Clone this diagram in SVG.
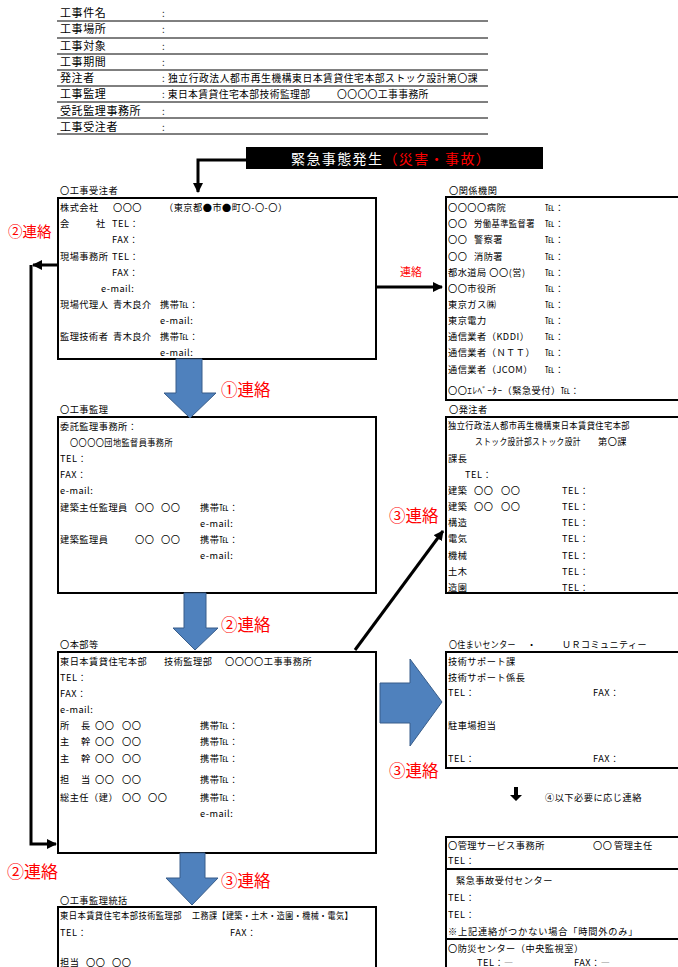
<svg xmlns="http://www.w3.org/2000/svg" width="678" height="967" viewBox="0 0 678 967">
<style>
text{font-family:"Noto Sans CJK JP","Noto Sans",sans-serif;fill:#000}
.h{font-size:11px;letter-spacing:0.6px}
.v{font-size:9.8px;letter-spacing:0.4px}
.t{font-size:9.2px;letter-spacing:0.5px}
.red{fill:#ff0000}
.box{fill:#fff;stroke:#000;stroke-width:2}
.hl{stroke:#000;stroke-width:1}
.con{fill:none;stroke:#000;stroke-width:3}
.blue{fill:#4f81bd;stroke:#385d8a;stroke-width:1}
</style>
<defs>
<marker id="ah" viewBox="0 0 10 10" refX="9" refY="5" markerWidth="10" markerHeight="10" markerUnits="userSpaceOnUse" orient="auto"><path d="M0,0 L10,5 L0,10 z" fill="#000"/></marker>
</defs>
<rect width="678" height="967" fill="#fff"/>

<g id="header">
<g class="hl">
<line x1="57" y1="21" x2="488" y2="21"/><line x1="57" y1="38" x2="488" y2="38"/><line x1="57" y1="54" x2="488" y2="54"/><line x1="57" y1="70" x2="488" y2="70"/><line x1="57" y1="86" x2="488" y2="86"/><line x1="57" y1="102" x2="488" y2="102"/><line x1="57" y1="118" x2="488" y2="118"/><line x1="57" y1="134" x2="488" y2="134"/>
</g>
<text class="h" x="60" y="17">工事件名</text>
<text class="h" x="60" y="33">工事場所</text>
<text class="h" x="60" y="50">工事対象</text>
<text class="h" x="60" y="66">工事期間</text>
<text class="h" x="60" y="82">発注者</text>
<text class="h" x="60" y="98">工事監理</text>
<text class="h" x="60" y="115">受託監理事務所</text>
<text class="h" x="60" y="131">工事受注者</text>
<text class="v" x="162" y="17">:</text>
<text class="v" x="162" y="33">:</text>
<text class="v" x="162" y="50">:</text>
<text class="v" x="162" y="66">:</text>
<text class="v" x="162" y="82" textLength="316" lengthAdjust="spacing">: 独立行政法人都市再生機構東日本賃貸住宅本部ストック設計第〇課</text>
<text class="v" x="162" y="98">: 東日本賃貸住宅本部技術監理部</text>
<text class="v" x="337" y="98">〇〇〇〇工事事務所</text>
<text class="v" x="162" y="115">:</text>
<text class="v" x="162" y="131">:</text>
</g>

<g id="banner">
<rect x="246" y="147" width="297" height="22" fill="#000"/>
<text x="291" y="163.5" style="font-size:14px;letter-spacing:1.4px"><tspan fill="#fff">緊急事態発生</tspan><tspan fill="#ff0000">（災害・事故）</tspan></text>
</g>

<g id="contractor">
<text class="t" x="60" y="194">〇工事受注者</text>
<rect class="box" x="58" y="198" width="318" height="161"/>
<text class="t" x="60" y="210.5">株式会社</text><text class="t" x="113" y="210.5">〇〇〇</text><text class="t" x="164" y="210.5">（東京都●市●町〇-〇-〇）</text>
<text class="t" x="60" y="226.5">会</text><text class="t" x="96" y="226.5">社</text><text class="t" x="112" y="226.5">TEL：</text>
<text class="t" x="112" y="242.5">FAX：</text>
<text class="t" x="60" y="259.5">現場事務所</text><text class="t" x="112" y="259.5">TEL：</text>
<text class="t" x="112" y="275.5">FAX：</text>
<text class="t" x="101" y="291.5">e-mail:</text>
<text class="t" x="60" y="307.5">現場代理人</text><text class="t" x="113" y="307.5">青木良介</text><text class="t" x="160" y="307.5">携帯℡：</text>
<text class="t" x="160" y="323.5">e-mail:</text>
<text class="t" x="60" y="339.5">監理技術者</text><text class="t" x="113" y="339.5">青木良介</text><text class="t" x="160" y="339.5">携帯℡：</text>
<text class="t" x="160" y="355.5">e-mail:</text>
</g>

<g id="agencies">
<text class="t" x="449" y="194">〇関係機関</text>
<rect class="box" x="446" y="197" width="250" height="203"/>
<text class="t" x="448" y="210.5">〇〇〇〇病院</text>
<text class="t" x="448" y="226.5">〇〇</text><text class="t" x="474" y="226.5" textLength="61" lengthAdjust="spacingAndGlyphs">労働基準監督署</text>
<text class="t" x="448" y="242.5">〇〇</text><text class="t" x="474" y="242.5">警察署</text>
<text class="t" x="448" y="259.5">〇〇</text><text class="t" x="474" y="259.5">消防署</text>
<text class="t" x="448" y="275.5">都水道局 〇〇(営)</text>
<text class="t" x="448" y="291.5">〇〇市役所</text>
<text class="t" x="448" y="307.5">東京ガス㈱</text>
<text class="t" x="448" y="323.5">東京電力</text>
<text class="t" x="448" y="339.5">通信業者（KDDI）</text>
<text class="t" x="448" y="355.5">通信業者（ＮＴＴ）</text>
<text class="t" x="448" y="372.5">通信業者（JCOM）</text>
<text class="t" x="448" y="393.5">〇〇ｴﾚﾍﾞｰﾀｰ（緊急受付）℡：</text>
<text class="t" x="545" y="210.5">℡：</text>
<text class="t" x="545" y="226.5">℡：</text>
<text class="t" x="545" y="242.5">℡：</text>
<text class="t" x="545" y="259.5">℡：</text>
<text class="t" x="545" y="275.5">℡：</text>
<text class="t" x="545" y="291.5">℡：</text>
<text class="t" x="545" y="307.5">℡：</text>
<text class="t" x="545" y="323.5">℡：</text>
<text class="t" x="545" y="339.5">℡：</text>
<text class="t" x="545" y="355.5">℡：</text>
<text class="t" x="545" y="372.5">℡：</text>
</g>

<g id="supervision">
<text class="t" x="60" y="413">〇工事監理</text>
<rect class="box" x="58" y="417" width="318" height="176"/>
<text class="t" x="60" y="429.5">委託監理事務所：</text>
<text class="t" x="70" y="445.5" textLength="103" lengthAdjust="spacingAndGlyphs">〇〇〇〇団地監督員事務所</text>
<text class="t" x="60" y="461.5">TEL：</text>
<text class="t" x="60" y="477.5">FAX：</text>
<text class="t" x="60" y="493.5">e-mail:</text>
<text class="t" x="60" y="510.5">建築主任監理員</text><text class="t" x="135" y="510.5">〇〇</text><text class="t" x="161" y="510.5">〇〇</text><text class="t" x="200" y="510.5">携帯℡：</text>
<text class="t" x="200" y="526.5">e-mail:</text>
<text class="t" x="60" y="542.5">建築監理員</text><text class="t" x="135" y="542.5">〇〇</text><text class="t" x="161" y="542.5">〇〇</text><text class="t" x="200" y="542.5">携帯℡：</text>
<text class="t" x="200" y="558.5">e-mail:</text>
</g>

<g id="orderer">
<text class="t" x="449" y="413">〇発注者</text>
<rect class="box" x="446" y="417" width="250" height="176"/>
<text class="t" x="448" y="428.5" textLength="182" lengthAdjust="spacingAndGlyphs">独立行政法人都市再生機構東日本賃貸住宅本部</text>
<text class="t" x="475" y="444.5" textLength="106" lengthAdjust="spacingAndGlyphs">ストック設計部ストック設計</text><text class="t" x="598" y="444.5">第〇課</text>
<text class="t" x="448" y="461.5">課長</text>
<text class="t" x="465" y="477.5">TEL：</text>
<text class="t" x="448" y="493.5">建築</text><text class="t" x="474" y="493.5">〇〇</text><text class="t" x="501" y="493.5">〇〇</text><text class="t" x="562" y="493.5">TEL：</text>
<text class="t" x="448" y="509.5">建築</text><text class="t" x="474" y="509.5">〇〇</text><text class="t" x="501" y="509.5">〇〇</text><text class="t" x="562" y="509.5">TEL：</text>
<text class="t" x="448" y="525.5">構造</text><text class="t" x="562" y="525.5">TEL：</text>
<text class="t" x="448" y="541.5">電気</text><text class="t" x="562" y="541.5">TEL：</text>
<text class="t" x="448" y="558.5">機械</text><text class="t" x="562" y="558.5">TEL：</text>
<text class="t" x="448" y="574.5">土木</text><text class="t" x="562" y="574.5">TEL：</text>
<text class="t" x="448" y="590.5">造園</text><text class="t" x="562" y="590.5">TEL：</text>
</g>

<g id="headquarters">
<text class="t" x="60" y="648">〇本部等</text>
<rect class="box" x="58" y="652" width="318" height="201"/>
<text class="t" x="60" y="664.5">東日本賃貸住宅本部</text><text class="t" x="164" y="664.5">技術監理部</text><text class="t" x="225" y="664.5">〇〇〇〇工事事務所</text>
<text class="t" x="60" y="680.5">TEL：</text>
<text class="t" x="60" y="696.5">FAX：</text>
<text class="t" x="60" y="712.5">e-mail:</text>
<text class="t" x="60" y="728.5">所</text><text class="t" x="81" y="728.5">長</text><text class="t" x="95" y="728.5">〇〇</text><text class="t" x="122" y="728.5">〇〇</text><text class="t" x="200" y="728.5">携帯℡：</text>
<text class="t" x="60" y="744.5">主</text><text class="t" x="81" y="744.5">幹</text><text class="t" x="95" y="744.5">〇〇</text><text class="t" x="122" y="744.5">〇〇</text><text class="t" x="200" y="744.5">携帯℡：</text>
<text class="t" x="60" y="761.5">主</text><text class="t" x="81" y="761.5">幹</text><text class="t" x="95" y="761.5">〇〇</text><text class="t" x="122" y="761.5">〇〇</text><text class="t" x="200" y="761.5">携帯℡：</text>
<text class="t" x="60" y="782.5">担</text><text class="t" x="81" y="782.5">当</text><text class="t" x="95" y="782.5">〇〇</text><text class="t" x="122" y="782.5">〇〇</text><text class="t" x="200" y="782.5">携帯℡：</text>
<text class="t" x="60" y="800.5">総主任（建）</text><text class="t" x="122" y="800.5">〇〇</text><text class="t" x="148" y="800.5">〇〇</text><text class="t" x="200" y="800.5">携帯℡：</text>
<text class="t" x="200" y="816.5">e-mail:</text>
</g>

<g id="housing-center">
<text class="t" x="449" y="647.5" textLength="67" lengthAdjust="spacingAndGlyphs">〇住まいセンター</text><text class="t" x="527" y="647.5">・</text><text class="t" x="562" y="647.5" textLength="85" lengthAdjust="spacingAndGlyphs">ＵＲコミュニティー</text>
<rect class="box" x="446" y="652" width="250" height="116"/>
<text class="t" x="448" y="664.5">技術サポート課</text>
<text class="t" x="448" y="680.5">技術サポート係長</text>
<text class="t" x="448" y="695.5">TEL：</text><text class="t" x="593" y="695.5">FAX：</text>
<text class="t" x="448" y="728.5">駐車場担当</text>
<text class="t" x="448" y="762">TEL：</text><text class="t" x="593" y="762">FAX：</text>
</g>

<g id="note4">
<polygon points="514,787 518,787 518,795 522,795 516,801 510,795 514,795" fill="#000"/>
<text class="t" x="545" y="800.5">④以下必要に応じ連絡</text>
</g>

<g id="management-office">
<rect class="box" x="446" y="837" width="250" height="150"/>
<line x1="446" y1="869" x2="696" y2="869" stroke="#000" stroke-width="2"/>
<line x1="446" y1="939" x2="696" y2="939" stroke="#000" stroke-width="2"/>
<text class="t" x="448" y="848.5">〇管理サービス事務所</text><text class="t" x="593" y="848.5">〇〇</text><text class="t" x="614" y="848.5">管理主任</text>
<text class="t" x="448" y="864">TEL：</text>
<text class="t" x="456" y="883.5">緊急事故受付センター</text>
<text class="t" x="448" y="901">TEL：</text>
<text class="t" x="448" y="917.5">TEL：</text>
<text class="t" x="448" y="934.5" textLength="190" lengthAdjust="spacing">※上記連絡がつかない場合「時間外のみ」</text>
<text class="t" x="448" y="951.5">〇防災センター（中央監視室）</text>
<text class="t" x="477" y="965.5">TEL：―</text><text class="t" x="574" y="965.5">FAX：―</text>
</g>

<g id="supervision-general">
<text class="t" x="60" y="903.5">〇工事監理統括</text>
<rect class="box" x="58" y="907" width="318" height="80"/>
<text class="t" x="60" y="918.5" textLength="122" lengthAdjust="spacingAndGlyphs">東日本賃貸住宅本部技術監理部</text><text class="t" x="192" y="918.5" textLength="161" lengthAdjust="spacingAndGlyphs">工務課【建築・土木・造園・機械・電気】</text>
<text class="t" x="60" y="935.5">TEL：</text><text class="t" x="230" y="935.5">FAX：</text>
<text class="t" x="60" y="965.5">担当</text><text class="t" x="86" y="965.5">〇〇</text><text class="t" x="112" y="965.5">〇〇</text>
</g>

<g id="connectors">
<path class="con" d="M246,160 H198 V192" marker-end="url(#ah)"/>
<path class="con" d="M58,265 H33" marker-end="url(#ah)"/>
<path class="con" d="M31,265 V844 H56" marker-end="url(#ah)"/>
<path class="con" d="M376,287 H442" marker-end="url(#ah)"/>
<path class="con" d="M355,650 L443,531" marker-end="url(#ah)"/>
<polygon class="blue" points="176,359 202,359 202,393 216,393 190,418 164,393 176,393"/>
<polygon class="blue" points="184,593 206,593 206,628 218,628 195,650 173,628 184,628"/>
<polygon class="blue" points="180,853 205,853 205,878 218,878 192,905 166,878 180,878"/>
<polygon class="blue" points="380,683 410,683 410,659 442,702 410,746 410,723 380,723"/>
<text class="red" x="221" y="396" style="font-size:16.5px">①連絡</text>
<text class="red" x="221" y="631" style="font-size:16.5px">②連絡</text>
<text class="red" x="221" y="887" style="font-size:16.5px">③連絡</text>
<text class="red" x="389" y="522" style="font-size:16.5px">③連絡</text>
<text class="red" x="389" y="777" style="font-size:16.5px">③連絡</text>
<text class="red" x="8" y="237" style="font-size:14.5px">②連絡</text>
<text class="red" x="7" y="878" style="font-size:17px">②連絡</text>
<text class="red" x="400" y="276" style="font-size:11px">連絡</text>
</g>
</svg>
